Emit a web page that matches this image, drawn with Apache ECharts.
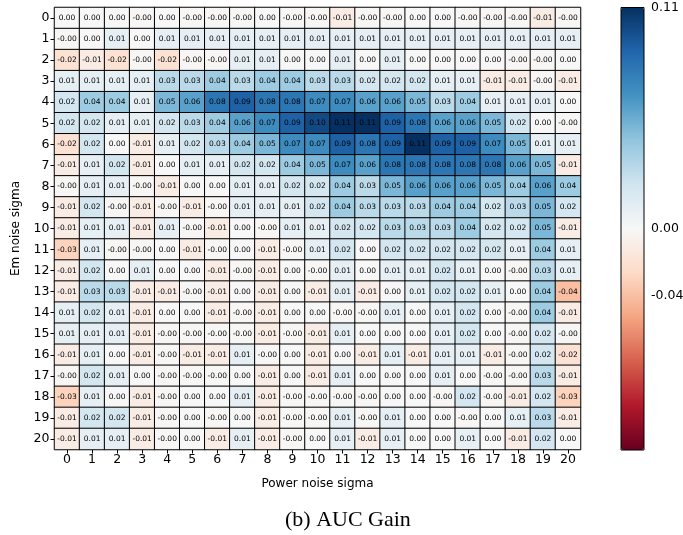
<!DOCTYPE html>
<html>
<head>
<meta charset="utf-8">
<script src="https://cdn.jsdelivr.net/npm/echarts@6/dist/echarts.min.js"></script>
<style>
html,body{margin:0;padding:0;background:#fff;}
#chart{width:683px;height:535px;}
</style>
</head>
<body>
<div id="chart"></div>
<script>
// Tick labels
const powerSigma = ['0','1','2','3','4','5','6','7','8','9','10','11','12','13','14','15','16','17','18','19','20'];
const emSigma    = ['0','1','2','3','4','5','6','7','8','9','10','11','12','13','14','15','16','17','18','19','20'];

// AUC gain, one array per Em noise sigma row (columns = power noise sigma 0..20)
// "-0.00" is stored as -0.001, "0.00" as 0
const em0  = [0, 0, 0, -0.001, 0, -0.001, -0.001, -0.001, 0, -0.001, -0.001, -0.01, -0.001, -0.001, 0, 0, -0.001, -0.001, -0.001, -0.01, -0.001];
const em1  = [-0.001, 0, 0.01, 0, 0.01, 0.01, 0.01, 0.01, 0.01, 0.01, 0.01, 0.01, 0.01, 0.01, 0.01, 0.01, 0.01, 0.01, 0.01, 0.01, 0.01];
const em2  = [-0.02, -0.01, -0.02, -0.001, -0.02, -0.001, -0.001, 0.01, 0.01, 0, 0, 0.01, 0, 0.01, 0, 0, 0, 0, -0.001, -0.001, 0];
const em3  = [0.01, 0.01, 0.01, 0.01, 0.03, 0.03, 0.04, 0.03, 0.04, 0.04, 0.03, 0.03, 0.02, 0.02, 0.02, 0.01, 0.01, -0.01, -0.01, -0.001, -0.01];
const em4  = [0.02, 0.04, 0.04, 0.01, 0.05, 0.06, 0.08, 0.09, 0.08, 0.08, 0.07, 0.07, 0.06, 0.06, 0.05, 0.03, 0.04, 0.01, 0.01, 0.01, 0];
const em5  = [0.02, 0.02, 0.01, 0.01, 0.02, 0.03, 0.04, 0.06, 0.07, 0.09, 0.10, 0.11, 0.11, 0.09, 0.08, 0.06, 0.06, 0.05, 0.02, 0, -0.001];
const em6  = [-0.02, 0.02, 0, -0.01, 0.01, 0.02, 0.03, 0.04, 0.05, 0.07, 0.07, 0.09, 0.08, 0.09, 0.11, 0.09, 0.09, 0.07, 0.05, 0.01, 0.01];
const em7  = [-0.01, 0.01, 0.02, -0.01, 0, 0.01, 0.01, 0.02, 0.02, 0.04, 0.05, 0.07, 0.06, 0.08, 0.08, 0.08, 0.08, 0.08, 0.06, 0.05, -0.01];
const em8  = [-0.001, 0.01, 0.01, -0.001, -0.01, 0, 0, 0.01, 0.01, 0.02, 0.02, 0.04, 0.03, 0.05, 0.06, 0.06, 0.06, 0.05, 0.04, 0.06, 0.04];
const em9  = [-0.01, 0.02, -0.001, -0.01, -0.001, -0.01, -0.001, 0.01, 0.01, 0.01, 0.02, 0.04, 0.03, 0.03, 0.03, 0.04, 0.04, 0.02, 0.03, 0.05, 0.02];
const em10 = [-0.01, 0.01, 0.01, -0.01, 0.01, -0.001, -0.01, 0, -0.001, 0.01, 0.01, 0.02, 0.02, 0.03, 0.03, 0.03, 0.04, 0.02, 0.02, 0.05, -0.01];
const em11 = [-0.03, 0.01, -0.001, -0.001, 0, -0.01, -0.001, 0, -0.01, -0.001, 0.01, 0.02, 0, 0.02, 0.02, 0.02, 0.02, 0.02, 0.01, 0.04, 0.01];
const em12 = [-0.01, 0.02, 0, 0.01, 0, 0, -0.01, -0.001, -0.01, 0, -0.001, 0.01, 0, 0.01, 0.01, 0.02, 0.01, 0, -0.001, 0.03, 0.01];
const em13 = [-0.01, 0.03, 0.03, -0.01, -0.01, -0.001, -0.01, 0, -0.01, 0, -0.01, 0.01, -0.01, 0, 0.01, 0.02, 0.02, 0.01, 0, 0.04, -0.04];
const em14 = [0.01, 0.02, 0.01, -0.01, 0, 0, -0.01, -0.001, -0.01, 0, 0, -0.001, -0.001, 0.01, 0, 0.01, 0.02, 0, -0.001, 0.04, -0.01];
const em15 = [0.01, 0.01, 0.01, -0.01, -0.001, -0.001, -0.001, -0.001, -0.01, -0.001, -0.01, 0.01, 0, 0, 0, 0.01, 0.02, 0, -0.001, 0.02, -0.001];
const em16 = [-0.01, 0.01, 0, -0.01, -0.001, -0.01, -0.01, 0.01, -0.001, 0, -0.01, 0, -0.01, 0.01, -0.01, 0.01, 0.01, -0.01, -0.001, 0.02, -0.02];
const em17 = [-0.001, 0.02, 0.01, 0, -0.001, -0.001, -0.001, 0, -0.01, 0, -0.01, 0.01, 0, 0, 0, 0.01, 0, -0.001, -0.001, 0.03, -0.01];
const em18 = [-0.03, 0.01, 0, -0.01, -0.001, 0, 0, 0.01, -0.01, -0.001, -0.001, -0.001, -0.001, 0, 0, -0.001, 0.02, -0.001, -0.01, 0.02, -0.03];
const em19 = [-0.01, 0.02, 0.02, -0.01, -0.001, 0, -0.001, 0, -0.01, -0.001, -0.001, 0.01, -0.001, 0.01, 0, 0, -0.001, 0, 0.01, 0.03, -0.01];
const em20 = [-0.01, 0.01, 0.01, -0.01, -0.001, 0, -0.01, 0.01, -0.01, -0.001, 0, 0.01, -0.01, 0.01, 0, 0, 0.01, 0, -0.01, 0.02, 0];

const gainRows = [em0, em1, em2, em3, em4, em5, em6, em7, em8, em9, em10, em11, em12, em13, em14, em15, em16, em17, em18, em19, em20];

// Colour scale (two-slope around zero)
const VMAX = 0.11;
const VMIN = -0.132;
const colorbarTicks = [0.11, 0.00, -0.04];
const RdBu = ['#67001f','#b2182b','#d6604d','#f4a582','#fddbc7','#f7f7f7','#d1e5f0','#92c5de','#4393c3','#2166ac','#053061'];

function norm(v){ return v >= 0 ? v / VMAX : -v / VMIN; }
function denorm(n){ return n >= 0 ? n * VMAX : -n * VMIN; }

const data = [];
gainRows.forEach((row, r) => {
  row.forEach((v, c) => { data.push([c, r, norm(v), v]); });
});

const FONT = 'DejaVu Sans';
const chart = echarts.init(document.getElementById('chart'), null, {renderer: 'canvas'});
chart.setOption({
  animation: false,
  backgroundColor: '#fff',
  graphic: [{
    type: 'text', left: 285, top: 509,
    style: {text: '(b) AUC Gain', fontFamily: 'Liberation Serif', fontSize: 22, fill: '#000'}
  }],
  grid: [
    {left: 54.5, top: 7.5, width: 526, height: 442, outerBoundsMode: 'none'},
    {left: 621, top: 7.5, width: 23, height: 442.5, outerBoundsMode: 'none', show: true, borderColor: '#000', borderWidth: 1, backgroundColor: 'transparent', z: 10}
  ],
  xAxis: [
    {
      type: 'category', data: powerSigma, gridIndex: 0,
      name: 'Power noise sigma', nameLocation: 'middle', nameGap: 28,
      nameTextStyle: {fontFamily: FONT, fontSize: 12, color: '#000'},
      axisLine: {show: false},
      axisTick: {show: true, alignWithLabel: true, length: 4, lineStyle: {color: '#000'}},
      axisLabel: {fontFamily: FONT, fontSize: 12.5, color: '#000', margin: 4},
      splitLine: {show: false}
    },
    {type: 'value', gridIndex: 1, min: 0, max: 1, show: false}
  ],
  yAxis: [
    {
      type: 'category', data: emSigma, gridIndex: 0, inverse: true,
      name: 'Em noise sigma', nameLocation: 'middle', nameGap: 33,
      nameTextStyle: {fontFamily: FONT, fontSize: 12, color: '#000'},
      axisLine: {show: false},
      axisTick: {show: true, alignWithLabel: true, length: 4, lineStyle: {color: '#000'}},
      axisLabel: {fontFamily: FONT, fontSize: 12.5, color: '#000', margin: 5},
      splitLine: {show: false}
    },
    {
      type: 'value', gridIndex: 1, min: -1, max: 1, position: 'right',
      axisLine: {show: false},
      splitLine: {show: false},
      axisTick: {show: true, length: 4, lineStyle: {color: '#000'}, customValues: colorbarTicks.map(norm)},
      axisLabel: {show: true, fontFamily: FONT, fontSize: 12.5, color: '#000', margin: 7,
        customValues: colorbarTicks.map(norm),
        formatter: function(v){ return denorm(v).toFixed(2); }}
    }
  ],
  visualMap: {
    type: 'continuous', min: -1, max: 1, dimension: 2, seriesIndex: 0,
    calculable: false, orient: 'vertical', left: 621, top: 7.5,
    itemWidth: 23, itemHeight: 442.5, padding: 0, text: null,
    inRange: {color: RdBu}
  },
  series: [
    {
      type: 'heatmap', xAxisIndex: 0, yAxisIndex: 0, data: data,
      itemStyle: {borderColor: '#000', borderWidth: 1},
      label: {show: true, fontFamily: FONT, fontSize: 7.5, color: '#000',
        formatter: function(p){ return p.data[3].toFixed(2); }},
      emphasis: {disabled: true}
    },
    {type: 'line', xAxisIndex: 1, yAxisIndex: 1, data: [], silent: true}
  ]
});
</script>
</body>
</html>
